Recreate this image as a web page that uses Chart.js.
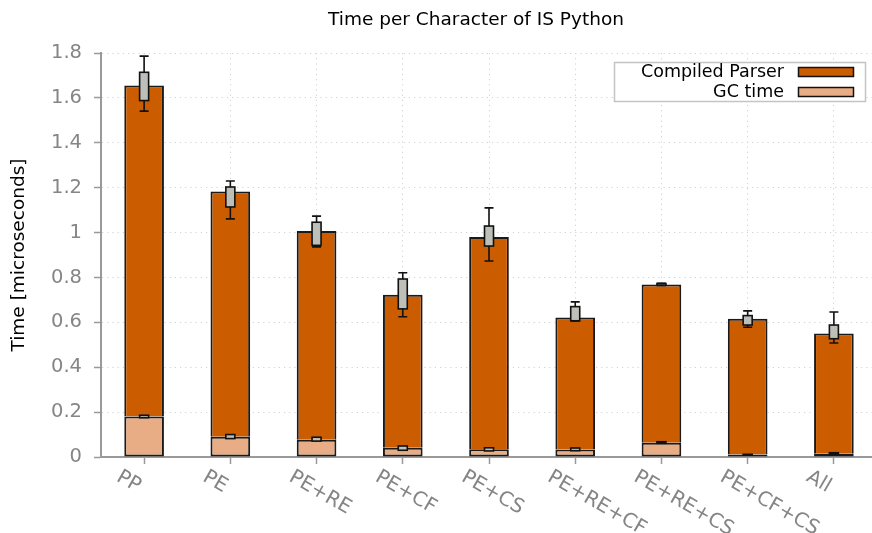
<!DOCTYPE html>
<html>
<head>
<meta charset="utf-8">
<script src="https://cdn.jsdelivr.net/npm/chart.js@4.4.1/dist/chart.umd.min.js"></script>
<style>
  html, body { margin: 0; padding: 0; background: #fff; overflow: hidden; }
  #wrap { width: 872px; height: 533px; overflow: hidden; }
</style>
</head>
<body>
<div id="wrap"><canvas id="chart" width="878" height="533"></canvas></div>
<script>
const categories = ['PP', 'PE', 'PE+RE', 'PE+CF', 'PE+CS', 'PE+RE+CF', 'PE+RE+CS', 'PE+CF+CS', 'All'];
const gcTime     = [0.180, 0.090, 0.077, 0.041, 0.034, 0.033, 0.064, 0.011, 0.015];
const parserTime = [1.475, 1.093, 0.930, 0.682, 0.946, 0.588, 0.705, 0.605, 0.535];

// box plots of the total time: whisker low, box low, box high, whisker high
const totalMin = [1.541, 1.061, 0.936, 0.625, 0.873, 0.606, 0.764, 0.578, 0.508];
const totalQ1  = [1.588, 1.114, 0.943, 0.660, 0.940, 0.607, 0.765, 0.588, 0.527];
const totalQ3  = [1.714, 1.203, 1.046, 0.793, 1.029, 0.670, 0.773, 0.630, 0.588];
const totalMax = [1.786, 1.230, 1.073, 0.821, 1.110, 0.691, 0.774, 0.651, 0.646];

// box plots of the GC time
const gcLow  = [0.175, 0.082, 0.071, 0.030, 0.027, 0.028, 0.061, 0.008, 0.012];
const gcHigh = [0.186, 0.100, 0.088, 0.049, 0.041, 0.040, 0.068, 0.012, 0.019];

const yTicks = [0, 0.2, 0.4, 0.6, 0.8, 1, 1.2, 1.4, 1.6, 1.8];

const FONT = 'DejaVu Sans';
const DARK = '#cc5c00';
const LIGHT = '#e8ad84';

function drawBox(ctx, cx, y, lo, q1, q3, hi) {
  const half = 4.5;
  const pLo = y.getPixelForValue(lo), pHi = y.getPixelForValue(hi);
  const pQ1 = y.getPixelForValue(q1), pQ3 = y.getPixelForValue(q3);
  if (hi > q3 || lo < q1) {
    ctx.beginPath();
    ctx.moveTo(cx, pLo); ctx.lineTo(cx, pHi);
    ctx.moveTo(cx - half, pLo); ctx.lineTo(cx + half, pLo);
    ctx.moveTo(cx - half, pHi); ctx.lineTo(cx + half, pHi);
    ctx.stroke();
  }
  ctx.fillStyle = '#bdbfb9';
  ctx.fillRect(cx - half, pQ3, half * 2, pQ1 - pQ3);
  ctx.strokeRect(cx - half, pQ3, half * 2, pQ1 - pQ3);
}

const extras = {
  id: 'extras',
  afterDatasetsDraw(chart) {
    const { ctx, scales: { x, y } } = chart;
    ctx.save();
    ctx.lineWidth = 1.6;
    ctx.strokeStyle = '#111';
    categories.forEach((c, i) => {
      const cx = x.getPixelForValue(i);
      drawBox(ctx, cx, y, totalMin[i], totalQ1[i], totalQ3[i], totalMax[i]);
      drawBox(ctx, cx, y, gcLow[i], gcLow[i], gcHigh[i], gcHigh[i]);
    });
    ctx.restore();
  },
  afterDraw(chart) {
    const { ctx, scales: { x } } = chart;
    ctx.save();
    // rotated category labels
    ctx.fillStyle = '#858585';
    ctx.font = '20px "' + FONT + '"';
    ctx.textAlign = 'left';
    ctx.textBaseline = 'top';
    categories.forEach((c, i) => {
      const cx = x.getPixelForValue(i);
      ctx.save();
      ctx.translate(cx - 21, 467);
      ctx.rotate(Math.PI / 6);
      ctx.fillText(c, 0, 0);
      ctx.restore();
    });
    // title
    ctx.fillStyle = '#000';
    ctx.font = '18.5px "' + FONT + '"';
    ctx.textAlign = 'center';
    ctx.textBaseline = 'alphabetic';
    ctx.fillText('Time per Character of IS Python', 476, 25);
    // legend
    ctx.fillStyle = '#fff';
    ctx.fillRect(614.5, 62.5, 251, 39);
    ctx.strokeStyle = '#c4c4c4';
    ctx.lineWidth = 1.5;
    ctx.strokeRect(614.5, 62.5, 251, 39);
    ctx.font = '17.5px "' + FONT + '"';
    ctx.textAlign = 'right';
    ctx.textBaseline = 'middle';
    const ds = chart.data.datasets;
    [ds[1], ds[0]].forEach((d, k) => {
      const yy = 72 + k * 20;
      ctx.fillStyle = '#000';
      ctx.fillText(d.label, 784, yy);
      ctx.fillStyle = d.backgroundColor;
      ctx.fillRect(798.5, yy - 4.5, 55, 9);
      ctx.strokeStyle = '#111';
      ctx.strokeRect(798.5, yy - 4.5, 55, 9);
    });
    ctx.restore();
  }
};

new Chart(document.getElementById('chart'), {
  type: 'bar',
  plugins: [extras],
  data: {
    labels: categories,
    datasets: [
      {
        label: 'GC time',
        data: gcTime,
        backgroundColor: LIGHT,
        borderColor: '#1a1a1a',
        borderWidth: 2,
        borderSkipped: false,
        categoryPercentage: 1,
        barPercentage: 0.46,
      },
      {
        label: 'Compiled Parser',
        data: parserTime,
        backgroundColor: DARK,
        borderColor: '#1a1a1a',
        borderWidth: 2,
        borderSkipped: 'start',
        categoryPercentage: 1,
        barPercentage: 0.46,
      },
    ],
  },
  options: {
    responsive: false,
    animation: false,
    devicePixelRatio: 1,
    layout: { padding: { top: 53, right: 1, left: 0, bottom: 0 } },
    plugins: {
      legend: { display: false },
      tooltip: { enabled: false },
      title: { display: false },
    },
    scales: {
      x: {
        stacked: true,
        offset: true,
        grid: {
          offset: false,
          color: '#d2d2d2',
          lineWidth: 1,
          drawTicks: true,
          tickLength: 7,
          tickColor: '#999',
          tickWidth: 1.5,
          tickBorderDash: [],
        },
        border: { display: true, color: '#999', width: 2, dash: [1.2, 4] },
        ticks: { display: false },
        afterFit: (s) => { s.height = 76; },
      },
      y: {
        stacked: true,
        min: 0,
        max: 1.8,
        afterBuildTicks: (s) => { s.ticks = yTicks.map((v) => ({ value: v })); },
        grid: {
          color: '#d2d2d2',
          lineWidth: 1,
          tickLength: 7,
          tickColor: '#999',
          tickWidth: 1.5,
          tickBorderDash: [],
        },
        border: { display: true, color: '#999', width: 2, dash: [1.2, 4] },
        ticks: {
          padding: 12,
          color: '#858585',
          font: { family: FONT, size: 19.5 },
          callback: (v) => String(+v.toFixed(1)),
        },
        title: {
          display: true,
          text: 'Time [microseconds]',
          color: '#000',
          font: { family: FONT, size: 18.5 },
          padding: { top: 8, bottom: 0 },
        },
        afterFit: (s) => { s.width = 101; },
      },
    },
  },
});
</script>
</body>
</html>
